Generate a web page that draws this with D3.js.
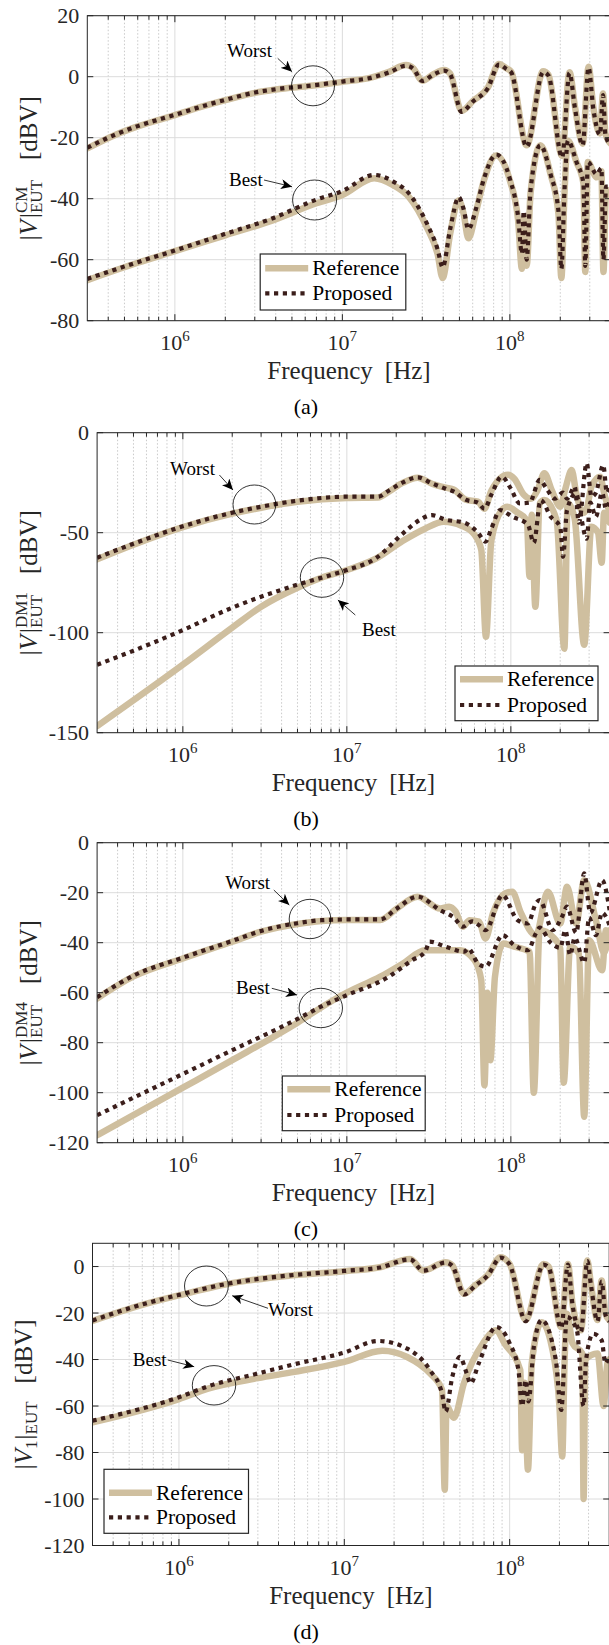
<!DOCTYPE html>
<html>
<head>
<meta charset="utf-8">
<script src="https://cdn.jsdelivr.net/npm/d3@7/dist/d3.min.js"></script>
<style>
  body { margin: 0; background: #fff; }
  svg text { font-family: "Liberation Serif", "Times New Roman", serif; }
</style>
</head>
<body>
<svg id="fig" width="609" height="1645" font-family="Liberation Serif"></svg>
<script>
// ---- data, [frequency Hz, dBV] ----
const aWorstRef = [[3e5,-23.5],[4.4e5,-19.1],[6e5,-16.3],[1e6,-12.6],[1.5e6,-9.6],[2e6,-7.7],[3e6,-5.3],[4e6,-4.2],[6.5e6,-3.0],[1e7,-1.7],[1.5e7,-0.2],[1.9e7,1.6],[2.4e7,3.8],[2.65e7,2.8],[3e7,-1.3],[3.5e7,0.8],[4.05e7,2.2],[4.4e7,1.0],[5.15e7,-11.2],[6e7,-8],[7.4e7,-3.5],[8.6e7,4.2],[9.5e7,2.8],[1.02e8,1.6],[1.26e8,-22.5],[1.58e8,1.8],[1.7e8,0.6],[2.05e8,-26],[2.27e8,1.5],[2.45e8,-10],[2.72e8,-22],[2.95e8,3.3],[3.15e8,-10],[3.45e8,-18.6],[3.6e8,-5.5],[3.72e8,-18.6],[4e8,-22]];
const aWorstProp = [[3e5,-23.3],[4.4e5,-19],[6e5,-16.2],[1e6,-12.5],[1.5e6,-9.5],[2e6,-7.6],[3e6,-5.2],[4e6,-4.1],[6.5e6,-2.9],[1e7,-1.6],[1.5e7,-0.3],[1.9e7,1.4],[2.4e7,3.6],[2.65e7,2.6],[3e7,-1.4],[3.5e7,0.7],[4.05e7,2.0],[4.4e7,0.8],[5.15e7,-11.5],[6e7,-8.2],[7.4e7,-3.7],[8.6e7,4.0],[9.5e7,2.6],[1.02e8,1.4],[1.26e8,-23],[1.58e8,1.5],[1.7e8,0.4],[2.05e8,-26.5],[2.27e8,1.2],[2.45e8,-10.5],[2.72e8,-22.5],[2.95e8,3.0],[3.15e8,-10.5],[3.45e8,-19],[3.6e8,-6],[3.72e8,-19],[4e8,-22.5]];
const aBestRef = [[3e5,-66.7],[6e5,-61],[1e6,-57.2],[2e6,-52],[3.8e6,-47.2],[7e6,-41.5],[1e7,-38.8],[1.55e7,-33.3],[2e7,-35.5],[2.5e7,-39.5],[3.2e7,-49.5],[3.7e7,-58],[3.97e7,-66],[4.4e7,-51.5],[4.95e7,-40.5],[5.3e7,-45],[5.65e7,-53],[6.3e7,-44],[7e7,-34],[8.3e7,-25.8],[1e8,-34],[1.12e8,-47],[1.18e8,-63],[1.22e8,-46],[1.26e8,-62],[1.33e8,-38],[1.52e8,-22.5],[1.75e8,-32],[1.95e8,-45],[2.03e8,-66],[2.12e8,-38],[2.22e8,-21],[2.5e8,-28],[2.75e8,-35],[2.82e8,-64],[2.92e8,-28],[3.3e8,-33],[3.52e8,-31],[3.62e8,-64],[3.75e8,-38],[4e8,-37]];
const aBestProp = [[3e5,-66.3],[6e5,-60.8],[1e6,-57],[2e6,-51.5],[3.8e6,-46.5],[7e6,-40.3],[1e7,-37.5],[1.55e7,-32.2],[2e7,-34.3],[2.5e7,-38.3],[3.2e7,-48.2],[3.7e7,-56.5],[3.97e7,-62.5],[4.4e7,-50],[4.95e7,-39.5],[5.3e7,-43.5],[5.65e7,-50],[6.3e7,-43],[7e7,-33.5],[8.3e7,-25.5],[1e8,-33.5],[1.12e8,-46],[1.18e8,-58],[1.21e8,-44],[1.26e8,-60],[1.33e8,-37],[1.52e8,-22.5],[1.75e8,-32],[1.95e8,-44],[2.03e8,-63],[2.12e8,-37],[2.22e8,-21],[2.5e8,-28],[2.75e8,-35],[2.82e8,-62],[2.92e8,-28],[3.3e8,-32],[3.52e8,-30],[3.62e8,-60],[3.75e8,-36],[4e8,-36]];

const bWorstRef = [[3e5,-63.3],[5e5,-56],[1e6,-47.2],[2e6,-40.5],[3e6,-37.5],[5e6,-34.5],[1e7,-32.6],[1.55e7,-32.4],[1.8e7,-29.5],[2.2e7,-25],[2.7e7,-22.5],[3.3e7,-25.5],[4e7,-27.5],[4.5e7,-28.5],[5.3e7,-33.5],[6.3e7,-34.5],[6.9e7,-38],[7.6e7,-29],[9.6e7,-21],[1.05e8,-23],[1.2e8,-31],[1.32e8,-33],[1.45e8,-29],[1.6e8,-20.3],[1.78e8,-29],[2.0e8,-37],[2.15e8,-28],[2.35e8,-18.7],[2.5e8,-30],[2.77e8,-40],[2.9e8,-38],[3.1e8,-27],[3.5e8,-22],[3.7e8,-30],[4e8,-40]];
const bWorstProp = [[3e5,-62.5],[5e5,-55.5],[1e6,-46.8],[2e6,-40],[3e6,-37],[5e6,-34],[1e7,-32],[1.55e7,-32],[1.8e7,-29],[2.2e7,-24.8],[2.7e7,-22.3],[3.3e7,-25.3],[4e7,-28],[4.5e7,-29.5],[5.3e7,-33.5],[6.3e7,-35],[6.9e7,-38],[7.6e7,-31],[8.8e7,-22],[1e8,-28],[1.13e8,-35.3],[1.3e8,-35],[1.5e8,-23.6],[1.65e8,-28],[1.85e8,-33],[2.08e8,-30],[2.2e8,-33],[2.45e8,-27],[2.6e8,-45],[2.9e8,-15.3],[3.1e8,-32],[3.3e8,-30],[3.66e8,-16.2],[3.85e8,-30],[4e8,-27]];
const bBestRef = [[3e5,-146.7],[1e6,-116],[2e6,-97.5],[3e6,-87],[5e6,-77.5],[7e6,-72.5],[1e7,-68.7],[1.5e7,-63],[2.2e7,-54],[3e7,-48],[3.9e7,-44.5],[5e7,-46.5],[6e7,-51],[6.6e7,-58.5],[7.05e7,-102],[7.6e7,-54],[8.8e7,-38.7],[9.5e7,-37],[1.1e8,-40],[1.25e8,-43.7],[1.3e8,-72],[1.34e8,-41],[1.41e8,-87],[1.5e8,-35.3],[1.6e8,-33.7],[1.9e8,-43.7],[2.12e8,-108],[2.22e8,-35],[2.45e8,-43],[2.8e8,-106],[3.1e8,-47],[3.4e8,-50],[3.58e8,-65],[3.7e8,-40],[4e8,-45]];
const bBestProp = [[3e5,-116],[5e5,-109],[1e6,-98.7],[2e6,-87.5],[3e6,-82],[5e6,-76],[7e6,-72.5],[1e7,-68.7],[1.5e7,-62.8],[2.2e7,-50.3],[2.8e7,-43.5],[3.3e7,-41.2],[4e7,-43.5],[5.2e7,-45],[6.3e7,-50],[7e7,-54.5],[7.6e7,-48],[8.6e7,-38.7],[1.02e8,-42],[1.27e8,-46],[1.38e8,-55],[1.52e8,-33.7],[1.75e8,-42],[2e8,-47],[2.08e8,-62],[2.2e8,-38.7],[2.5e8,-30.3],[2.65e8,-40],[2.9e8,-53],[3.05e8,-35],[3.3e8,-42],[3.6e8,-30],[3.8e8,-38],[4e8,-34]];

const cWorstRef = [[3e5,-62.3],[5e5,-53.5],[1e6,-46.3],[2e6,-39.6],[3e6,-35.6],[5e6,-32.5],[7e6,-31.3],[1e7,-30.9],[1.6e7,-30.9],[2e7,-26.5],[2.7e7,-21.6],[3.7e7,-26.3],[4.2e7,-25.6],[4.6e7,-27.5],[5.1e7,-33.6],[5.6e7,-31],[6.4e7,-31.6],[7e7,-38.3],[7.8e7,-28],[9.2e7,-20.3],[1.02e8,-19.6],[1.15e8,-28],[1.42e8,-37],[1.68e8,-19.6],[2e8,-32.3],[2.2e8,-17.6],[2.5e8,-32.3],[2.8e8,-15],[3.3e8,-31],[3.7e8,-44],[4e8,-35]];
const cWorstProp = [[3e5,-61.8],[5e5,-53.2],[1e6,-46],[2e6,-39.3],[3e6,-35.3],[5e6,-32.2],[7e6,-31],[1e7,-30.7],[1.6e7,-30.7],[2e7,-26.5],[2.7e7,-21.6],[3.7e7,-27],[4.5e7,-30],[5.1e7,-33.6],[5.8e7,-31.5],[6.4e7,-33],[7e7,-35],[8.9e7,-21],[1.1e8,-31],[1.27e8,-32.3],[1.42e8,-24.3],[1.5e8,-23],[1.8e8,-35],[2.05e8,-29.6],[2.2e8,-25.6],[2.5e8,-36],[2.8e8,-12.3],[3.05e8,-28],[3.6e8,-15],[4e8,-27]];
const cBestRef = [[3e5,-117],[1e6,-98],[2e6,-87],[5e6,-72],[8e6,-63.5],[1e7,-60],[1.6e7,-53.6],[2.2e7,-48.3],[3e7,-43],[4.9e7,-43],[6e7,-47],[6.6e7,-55],[6.9e7,-97],[7.2e7,-60],[7.5e7,-87],[8e7,-53.6],[9e7,-40.3],[1.05e8,-41.6],[1.3e8,-43.6],[1.38e8,-100],[1.5e8,-35],[1.8e8,-37.6],[2e8,-42.3],[2.1e8,-96],[2.3e8,-41.6],[2.6e8,-44.3],[2.8e8,-109.6],[3e8,-39],[3.6e8,-51],[3.8e8,-35],[4e8,-40]];
const cBestProp = [[3e5,-109],[1e6,-92.5],[2e6,-83],[5e6,-70.5],[7e6,-65.5],[1e7,-61],[1.8e7,-53.6],[2.5e7,-47],[3e7,-43.6],[3.2e7,-39.6],[4e7,-41.6],[5.2e7,-43.6],[5.5e7,-42.3],[6.3e7,-48.3],[7e7,-49.6],[8.9e7,-37],[1.05e8,-41],[1.27e8,-43],[1.42e8,-36.3],[1.5e8,-34],[1.75e8,-40],[2e8,-42],[2.15e8,-35],[2.3e8,-45],[2.45e8,-38],[2.8e8,-48],[3e8,-30],[3.3e8,-37],[3.6e8,-28],[4e8,-33]];

const dWorstRef = [[3e5,-23.4],[6e5,-16.5],[1e6,-12.4],[2e6,-7.4],[4.7e6,-3.9],[1e7,-2],[1.64e7,-0.3],[2.5e7,3.3],[3e7,-1.7],[4.1e7,1.9],[4.5e7,0.5],[5.3e7,-11.7],[6.2e7,-8],[7.4e7,-3.5],[8.8e7,4],[1e8,1.1],[1.25e8,-23],[1.6e8,1.1],[1.72e8,0],[2.05e8,-26],[2.25e8,1.1],[2.4e8,-16],[2.7e8,-27.4],[2.95e8,2.6],[3.1e8,-7.4],[3.4e8,-23],[3.6e8,-6],[3.8e8,-20.3],[4e8,-23]];
const dWorstProp = [[3e5,-23.2],[6e5,-16.3],[1e6,-12.2],[2e6,-7.3],[4.7e6,-3.8],[1e7,-1.9],[1.64e7,-0.4],[2.5e7,3.1],[3e7,-1.8],[4.1e7,1.7],[4.5e7,0.3],[5.3e7,-12],[6.2e7,-8.2],[7.4e7,-3.7],[8.8e7,3.8],[1e8,0.9],[1.25e8,-23.5],[1.6e8,0.8],[1.72e8,-0.3],[2.05e8,-26.5],[2.25e8,0.8],[2.4e8,-16.5],[2.7e8,-28],[2.95e8,2.3],[3.1e8,-7.8],[3.4e8,-23.5],[3.6e8,-6.5],[3.8e8,-20.8],[4e8,-23.5]];
const dBestRef = [[3e5,-67],[1e6,-57],[1.5e6,-52.5],[3e6,-48],[5e6,-45.3],[1e7,-41],[1.7e7,-36.2],[2.4e7,-38.9],[3.3e7,-46],[3.9e7,-53],[4.05e7,-96],[4.15e7,-60],[4.6e7,-65],[5.3e7,-50],[6.9e7,-33],[8.3e7,-27.4],[9.3e7,-33],[1.16e8,-44.6],[1.19e8,-79],[1.23e8,-50],[1.29e8,-87.4],[1.36e8,-41.7],[1.56e8,-24],[1.8e8,-34.6],[2e8,-60],[2.08e8,-81.7],[2.15e8,-40],[2.22e8,-20.3],[2.4e8,-33],[2.75e8,-37.4],[2.8e8,-100],[2.87e8,-40],[3.4e8,-37.4],[3.7e8,-60],[3.9e8,-41.7],[4e8,-40]];
const dBestProp = [[3e5,-66.3],[1e6,-56.2],[1.5e6,-51.5],[3e6,-46],[5e6,-42],[1e7,-37],[1.6e7,-32],[2.4e7,-35.3],[3.3e7,-44.6],[3.9e7,-54.6],[4.1e7,-62.4],[4.5e7,-47.4],[5e7,-38.9],[5.5e7,-46],[5.8e7,-50.3],[6.5e7,-41.7],[8.3e7,-26],[1e8,-33],[1.13e8,-44.6],[1.19e8,-60],[1.25e8,-48.9],[1.3e8,-58],[1.4e8,-34.6],[1.56e8,-23],[1.9e8,-40],[2.05e8,-61.7],[2.22e8,-21.7],[2.55e8,-27.4],[2.8e8,-60],[2.9e8,-40],[3.2e8,-28.9],[3.6e8,-31.7],[3.8e8,-41.7],[4e8,-38]];

const freqDomain = [3e5, 4e8];
const xMajor = [1e6, 1e7, 1e8];
const xMajorExp = ["6", "7", "8"];
const aTicks = [-80, -60, -40, -20, 0, 20];
const bTicks = [-150, -100, -50, 0];
const cTicks = [-120, -100, -80, -60, -40, -20, 0];
const dTicks = [-120, -100, -80, -60, -40, -20, 0];
const legendLabels = ["Reference", "Proposed"];
const panelTags = ["(a)", "(b)", "(c)", "(d)"];

// ---- styling ----
const FONT = "Liberation Serif";
const tan = "#cfbf9f", brown = "#3b1e1b", ink = "#262626";
const svg = d3.select("#fig");

const defs = svg.append("defs");
defs.append("marker").attr("id", "head")
  .attr("markerUnits", "userSpaceOnUse")
  .attr("markerWidth", 12).attr("markerHeight", 10)
  .attr("refX", 11).attr("refY", 5).attr("orient", "auto")
  .append("path").attr("d", "M0,0 L11,5 L0,10 L3,5 Z").attr("fill", "#000");

const panels = [
  { tag: panelTags[0], series: [aWorstRef, aBestRef, aWorstProp, aBestProp], yDomain: [-80, 20], ticks: aTicks,
    left: 87.3, right: 610.7, top: 15.7, bottom: 320.7, labX: 37,
    ylab: [{t: "|", s: 25}, {t: "V", s: 25, i: true, pad: 2}, {t: "|", s: 25}, {stack: [{t: "CM", s: 17, dy: -10}, {t: "EUT", s: 17, dy: 5}]}, {gap: 20}, {t: "[dBV]", s: 25}],
    legend: {x: 260.2, y: 254, w: 145.6, h: 56, r1: 14.3, r2: 39.3},
    notes: [
      {t: "Worst", tx: 227, ty: 57, x1: 277.7, y1: 58.3, x2: 292, y2: 71.7, cx: 313, cy: 85.8, rx: 21.5, ry: 20},
      {t: "Best", tx: 229, ty: 186, x1: 264, y1: 180, x2: 292, y2: 186.7, cx: 314.6, cy: 200, rx: 22, ry: 20}
    ] },
  { tag: panelTags[1], series: [bWorstRef, bBestRef, bWorstProp, bBestProp], yDomain: [-150, 0], ticks: bTicks,
    left: 97.1, right: 609.6, top: 432.7, bottom: 732.7, labX: 37,
    ylab: [{t: "|", s: 25}, {t: "V", s: 25, i: true, pad: 2}, {t: "|", s: 25}, {stack: [{t: "DM1", s: 17, dy: -10}, {t: "EUT", s: 17, dy: 5}]}, {gap: 18}, {t: "[dBV]", s: 25}],
    legend: {x: 455, y: 666, w: 143, h: 54.7, r1: 13.3, r2: 39},
    notes: [
      {t: "Worst", tx: 170, ty: 475, x1: 219.4, y1: 475, x2: 233, y2: 490, cx: 254.4, cy: 504.5, rx: 21.4, ry: 19.5},
      {t: "Best", tx: 362, ty: 636, x1: 355.3, y1: 615, x2: 337.9, y2: 600, cx: 322, cy: 577.5, rx: 21.7, ry: 19.8}
    ] },
  { tag: panelTags[2], series: [cWorstRef, cBestRef, cWorstProp, cBestProp], yDomain: [-120, 0], ticks: cTicks,
    left: 97.1, right: 609.6, top: 842.7, bottom: 1142.7, labX: 37,
    ylab: [{t: "|", s: 25}, {t: "V", s: 25, i: true, pad: 2}, {t: "|", s: 25}, {stack: [{t: "DM4", s: 17, dy: -10}, {t: "EUT", s: 17, dy: 5}]}, {gap: 18}, {t: "[dBV]", s: 25}],
    legend: {x: 282.3, y: 1076, w: 142.9, h: 54.7, r1: 13.3, r2: 39},
    notes: [
      {t: "Worst", tx: 225.2, ty: 889, x1: 273.8, y1: 890, x2: 289.3, y2: 905, cx: 310, cy: 919, rx: 20.8, ry: 19.7},
      {t: "Best", tx: 236, ty: 994, x1: 271.8, y1: 988.3, x2: 297, y2: 995, cx: 320.8, cy: 1008, rx: 21.7, ry: 19.7}
    ] },
  { tag: panelTags[3], series: [dWorstRef, dBestRef, dWorstProp, dBestProp], yDomain: [-120, 10], ticks: dTicks,
    left: 92.5, right: 609.2, top: 1243.3, bottom: 1545.5, labX: 32,
    ylab: [{t: "|", s: 25}, {t: "V", s: 25, i: true}, {t: "1", s: 17, dy: 5, pad: 1}, {t: "|", s: 25}, {t: "EUT", s: 17, dy: 5}, {gap: 18}, {t: "[dBV]", s: 25}],
    legend: {x: 104, y: 1469.3, w: 144.5, h: 64, r1: 23.4, r2: 48},
    notes: [
      {t: "Worst", tx: 268, ty: 1316, x1: 268, y1: 1308.3, x2: 232.2, y2: 1295.7, cx: 206.4, cy: 1286, rx: 21.9, ry: 20},
      {t: "Best", tx: 132.8, ty: 1366, x1: 167.8, y1: 1360, x2: 194.2, y2: 1366.7, cx: 214, cy: 1385.3, rx: 21.7, ry: 19.7}
    ] }
];

panels.forEach((p, k) => drawPanel(p, k));

function drawPanel(p, k) {
  const x = d3.scaleLog().domain(freqDomain).range([p.left, p.right]);
  const y = d3.scaleLinear().domain(p.yDomain).range([p.bottom, p.top]);
  const g = svg.append("g");
  const clipId = "clip" + k;
  defs.append("clipPath").attr("id", clipId).append("rect")
    .attr("x", p.left).attr("y", p.top).attr("width", p.right - p.left).attr("height", p.bottom - p.top);

  // minor x positions (2..9 x 10^n)
  const minor = [];
  for (let e = 5; e <= 8; e++) for (let m = 2; m <= 9; m++) {
    const f = m * Math.pow(10, e);
    if (f > freqDomain[0] && f < freqDomain[1]) minor.push(f);
  }

  // grid
  g.append("g").selectAll("line").data(minor).join("line")
    .attr("x1", d => x(d)).attr("x2", d => x(d)).attr("y1", p.top).attr("y2", p.bottom)
    .attr("stroke", "#bdbdbd").attr("stroke-width", 0.8).attr("stroke-dasharray", "1.5,2");
  g.append("g").selectAll("line").data(xMajor).join("line")
    .attr("x1", d => x(d)).attr("x2", d => x(d)).attr("y1", p.top).attr("y2", p.bottom)
    .attr("stroke", "#dcdcdc").attr("stroke-width", 1);
  g.append("g").selectAll("line").data(p.ticks).join("line")
    .attr("x1", p.left).attr("x2", p.right).attr("y1", d => y(d)).attr("y2", d => y(d))
    .attr("stroke", "#dcdcdc").attr("stroke-width", 1);

  // curves
  const line = d3.line().x(d => x(d[0])).y(d => y(d[1])).curve(d3.curveMonotoneX);
  const plot = g.append("g").attr("clip-path", `url(#${clipId})`);
  plot.selectAll("path.ref").data(p.series.slice(0, 2)).join("path").attr("class", "ref")
    .attr("d", line).attr("fill", "none").attr("stroke", tan).attr("stroke-width", 6.5)
    .attr("stroke-linejoin", "round").attr("stroke-linecap", "round");
  plot.selectAll("path.prop").data(p.series.slice(2)).join("path").attr("class", "prop")
    .attr("d", line).attr("fill", "none").attr("stroke", brown).attr("stroke-width", 4.2)
    .attr("stroke-dasharray", "4.2,4.6").attr("stroke-linejoin", "round");

  // axes box and ticks
  const ax = g.append("g").attr("stroke", ink).attr("stroke-width", 1);
  ax.append("rect").attr("x", p.left).attr("y", p.top).attr("width", p.right - p.left).attr("height", p.bottom - p.top)
    .attr("fill", "none");
  p.ticks.forEach(t => {
    ax.append("line").attr("x1", p.left).attr("x2", p.left + 6).attr("y1", y(t)).attr("y2", y(t));
    ax.append("line").attr("x1", p.right).attr("x2", p.right - 6).attr("y1", y(t)).attr("y2", y(t));
  });
  minor.forEach(f => {
    ax.append("line").attr("x1", x(f)).attr("x2", x(f)).attr("y1", p.bottom).attr("y2", p.bottom - 4);
    ax.append("line").attr("x1", x(f)).attr("x2", x(f)).attr("y1", p.top).attr("y2", p.top + 4);
  });
  xMajor.forEach(f => {
    ax.append("line").attr("x1", x(f)).attr("x2", x(f)).attr("y1", p.bottom).attr("y2", p.bottom - 6.5);
    ax.append("line").attr("x1", x(f)).attr("x2", x(f)).attr("y1", p.top).attr("y2", p.top + 6.5);
  });

  // tick labels
  g.append("g").selectAll("text").data(p.ticks).join("text")
    .attr("x", p.left - 8).attr("y", d => y(d) + 7.5)
    .attr("text-anchor", "end").attr("font-family", FONT).attr("font-size", 22).attr("fill", ink)
    .text(d => d);
  xMajor.forEach((f, i) => {
    const t = g.append("text").attr("x", x(f)).attr("y", p.bottom + 29.5)
      .attr("text-anchor", "middle").attr("font-family", FONT).attr("font-size", 22).attr("fill", ink);
    t.append("tspan").text("10");
    t.append("tspan").attr("font-size", 15).attr("dy", -9.5).text(xMajorExp[i]);
  });

  // axis titles
  const cx = (p.left + p.right) / 2;
  const fq = g.append("text").attr("x", cx).attr("y", p.bottom + 58).attr("text-anchor", "middle")
    .attr("font-family", FONT).attr("font-size", 25).attr("fill", ink);
  fq.append("tspan").text("Frequency");
  fq.append("tspan").attr("dx", 12).text("[Hz]");
  g.append("text").attr("x", 306).attr("y", p.bottom + 93).attr("text-anchor", "middle")
    .attr("font-family", FONT).attr("font-size", 22).attr("fill", "#000").text(p.tag);
  yLabel(g, p.labX, (p.top + p.bottom) / 2, p.ylab);

  // legend
  const L = p.legend;
  const lg = g.append("g");
  lg.append("rect").attr("x", L.x).attr("y", L.y).attr("width", L.w).attr("height", L.h)
    .attr("fill", "#fff").attr("stroke", ink).attr("stroke-width", 1.2);
  [[L.r1, tan, 6.5, null], [L.r2, brown, 4.2, "4.2,4.6"]].forEach((r, i) => {
    lg.append("line").attr("x1", L.x + 5).attr("x2", L.x + 48).attr("y1", L.y + r[0]).attr("y2", L.y + r[0])
      .attr("stroke", r[1]).attr("stroke-width", r[2]).attr("stroke-dasharray", r[3]);
    lg.append("text").attr("x", L.x + 52).attr("y", L.y + r[0] + 7)
      .attr("font-family", FONT).attr("font-size", 21.5).attr("fill", "#000").text(legendLabels[i]);
  });

  // annotations
  p.notes.forEach(n => {
    g.append("ellipse").attr("cx", n.cx).attr("cy", n.cy).attr("rx", n.rx).attr("ry", n.ry)
      .attr("fill", "none").attr("stroke", "#000").attr("stroke-width", 0.8);
    g.append("line").attr("x1", n.x1).attr("y1", n.y1).attr("x2", n.x2).attr("y2", n.y2)
      .attr("stroke", "#000").attr("stroke-width", 0.8).attr("marker-end", "url(#head)");
    g.append("text").attr("x", n.tx).attr("y", n.ty).attr("font-family", FONT).attr("font-size", 19)
      .attr("fill", "#000").text(n.t);
  });
}

function yLabel(g, bx, cy, parts) {
  const outer = g.append("g").attr("transform", `translate(${bx},${cy}) rotate(-90)`);
  const inner = outer.append("g").attr("fill", ink);
  let cx = 0;
  parts.forEach(pt => {
    if (pt.gap) { cx += pt.gap; return; }
    if (pt.stack) {
      let w = 0;
      pt.stack.forEach(s => {
        const t = inner.append("text").attr("x", cx).attr("y", s.dy).attr("font-family", FONT)
          .attr("font-size", s.s).text(s.t);
        w = Math.max(w, t.node().getComputedTextLength());
      });
      cx += w;
      return;
    }
    const t = inner.append("text").attr("x", cx).attr("y", pt.dy || 0).attr("font-family", FONT)
      .attr("font-size", pt.s).attr("font-style", pt.i ? "italic" : null).text(pt.t);
    cx += t.node().getComputedTextLength() + (pt.pad || 0);
  });
  inner.attr("transform", `translate(${-cx / 2},0)`);
}
</script>
</body>
</html>
